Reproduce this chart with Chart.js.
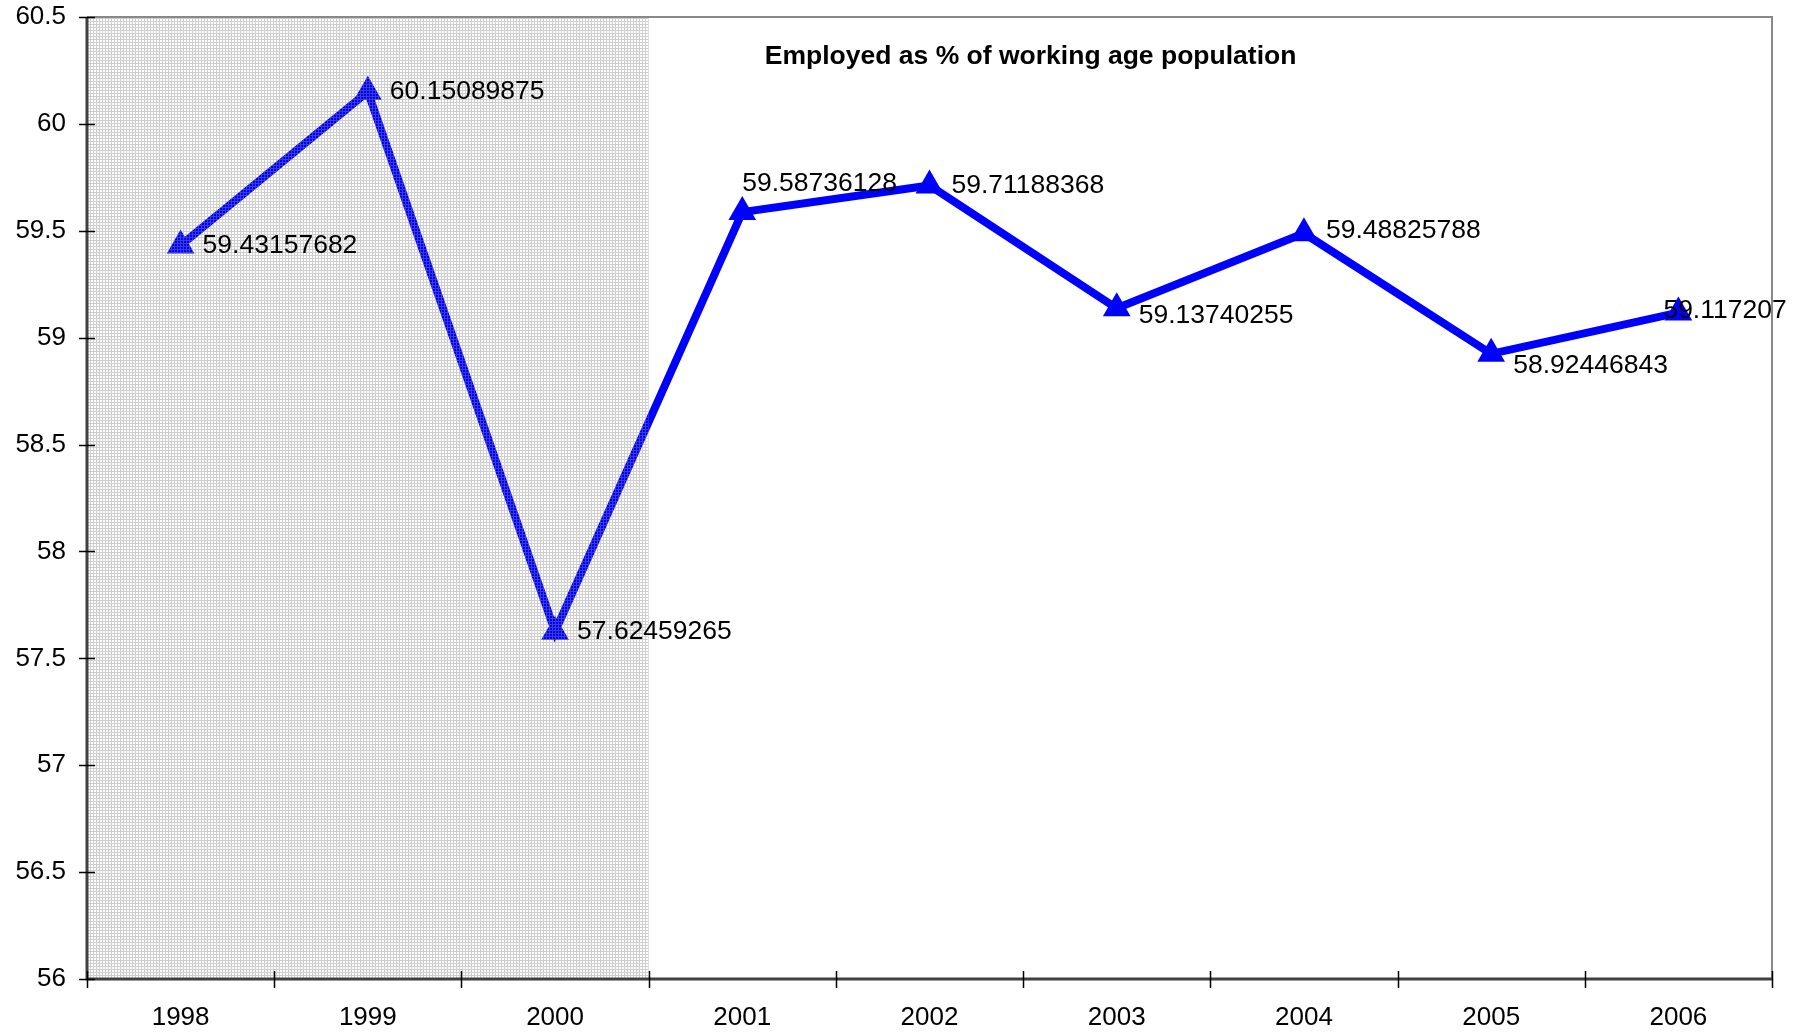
<!DOCTYPE html>
<html>
<head>
<meta charset="utf-8">
<script src="https://cdn.jsdelivr.net/npm/chart.js@4"></script>
<style>
  html, body { margin: 0; padding: 0; background: #fff; }
  #wrap { width: 1810px; height: 1032px; }
</style>
</head>
<body>
<div id="wrap"><canvas id="chart" width="1810" height="1032"></canvas></div>
<script>
const years = ["1998", "1999", "2000", "2001", "2002", "2003", "2004", "2005", "2006"];
const employedShare = [59.43157682, 60.15089875, 57.62459265, 59.58736128, 59.71188368,
  59.13740255, 59.48825788, 58.92446843, 59.117207];
const shadedYears = ["1998", "1999", "2000"];
const yTicks = [56, 56.5, 57, 57.5, 58, 58.5, 59, 59.5, 60, 60.5];
const titleText = "Employed as % of working age population";

const FONT = "'Liberation Sans', Arial, sans-serif";

// label nudges (dx, dy) per point, as in the original sheet
const labelNudge = [[22, 0], [22, 0], [22, 0], [0, -28], [22, 0], [22, 7], [22, -3], [22, 12], [-15, -2]];

function makePattern(ctx) {
  const tile = document.createElement("canvas");
  tile.width = 3;
  tile.height = 3;
  const t = tile.getContext("2d");
  t.fillStyle = "rgba(140,140,140,0.42)";
  t.fillRect(0, 0, 3, 1);
  t.fillRect(0, 1, 1, 2);
  return ctx.createPattern(tile, "repeat");
}

const framePlugin = {
  id: "frame",
  beforeDraw(chart) {
    const { ctx } = chart;
    ctx.save();
    ctx.fillStyle = "#fff";
    ctx.fillRect(0, 0, chart.width, chart.height);
    ctx.restore();
  },
  afterDatasetsDraw(chart) {
    const { ctx, chartArea: a } = chart;
    const step = a.width / years.length;
    const lastShaded = years.indexOf(shadedYears[shadedYears.length - 1]);
    const firstShaded = years.indexOf(shadedYears[0]);
    ctx.save();
    ctx.fillStyle = makePattern(ctx);
    ctx.fillRect(a.left + firstShaded * step, a.top, (lastShaded - firstShaded + 1) * step, a.height);
    ctx.restore();
  },
  afterDraw(chart) {
    const { ctx, chartArea: a, scales } = chart;
    ctx.save();
    // top & right border
    ctx.strokeStyle = "#888";
    ctx.lineWidth = 2;
    ctx.beginPath();
    ctx.moveTo(a.left, a.top);
    ctx.lineTo(a.right, a.top);
    ctx.lineTo(a.right, a.bottom);
    ctx.stroke();
    // axes
    ctx.strokeStyle = "#404040";
    ctx.lineWidth = 3;
    ctx.beginPath();
    ctx.moveTo(a.left, a.top);
    ctx.lineTo(a.left, a.bottom);
    ctx.lineTo(a.right, a.bottom);
    ctx.stroke();
    // crossing ticks
    ctx.strokeStyle = "#000";
    ctx.lineWidth = 1.5;
    ctx.beginPath();
    yTicks.forEach((v) => {
      const py = Math.round(scales.y.getPixelForValue(v)) + 0.5;
      ctx.moveTo(a.left - 8, py);
      ctx.lineTo(a.left + 8, py);
    });
    const step = a.width / years.length;
    for (let i = 0; i <= years.length; i++) {
      const px = Math.round(a.left + i * step) + 0.5;
      ctx.moveTo(px, a.bottom - 8);
      ctx.lineTo(px, a.bottom + 9);
    }
    ctx.stroke();
    // value labels
    ctx.fillStyle = "#000";
    ctx.font = "26.5px " + FONT;
    ctx.textAlign = "left";
    ctx.textBaseline = "middle";
    const meta = chart.getDatasetMeta(0);
    meta.data.forEach((pt, i) => {
      const [dx, dy] = labelNudge[i];
      ctx.fillText(String(employedShare[i]), pt.x + dx, pt.y + dy);
    });
    // title
    ctx.font = "bold 26.5px " + FONT;
    ctx.textAlign = "center";
    ctx.fillText(titleText, a.left + a.width * 0.56, a.top + 40);
    ctx.restore();
  },
};

new Chart(document.getElementById("chart"), {
  type: "line",
  data: {
    labels: years,
    datasets: [{
      data: employedShare,
      borderColor: "#0000ff",
      backgroundColor: "#0000ff",
      borderWidth: 8,
      pointStyle: "triangle",
      pointRadius: 16,
      pointHoverRadius: 16,
      pointBorderWidth: 0,
      tension: 0,
    }],
  },
  options: {
    responsive: false,
    animation: false,
    layout: { padding: { top: 17, right: 38, left: 0, bottom: 0 } },
    plugins: {
      legend: { display: false },
      title: { display: false },
      tooltip: { enabled: false },
    },
    scales: {
      x: {
        offset: true,
        grid: { display: false },
        border: { display: false },
        ticks: {
          color: "#000",
          font: { size: 26, family: FONT },
          padding: 15,
          maxRotation: 0,
        },
        afterFit(scale) {
          scale.height = 53;
          scale.paddingLeft = 0;
          scale.paddingRight = 0;
        },
      },
      y: {
        min: 56,
        max: 60.5,
        grid: { display: false },
        border: { display: false },
        afterBuildTicks(scale) {
          scale.ticks = yTicks.map((v) => ({ value: v }));
        },
        ticks: {
          color: "#000",
          font: { size: 26, family: FONT },
          padding: 13,
          callback: (v) => String(v),
        },
        afterFit(scale) {
          scale.width = 87;
          scale.paddingTop = 0;
          scale.paddingBottom = 0;
        },
      },
    },
  },
  plugins: [framePlugin],
});
</script>
</body>
</html>
